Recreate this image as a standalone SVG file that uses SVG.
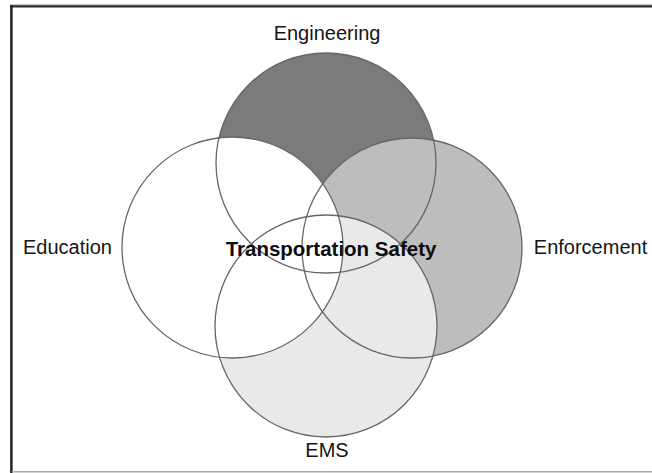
<svg xmlns="http://www.w3.org/2000/svg" width="652" height="473" viewBox="0 0 652 473">
  <style>
    .lbl { font-family: "Liberation Sans", Arial, sans-serif; font-size: 20px; fill: #151515; text-anchor: middle; }
    .title { font-family: "Liberation Sans", Arial, sans-serif; font-size: 20.5px; font-weight: bold; fill: #0d0d0d; text-anchor: middle; }
    .ring { fill: none; stroke: #666666; stroke-width: 1.3; }
  </style>
  <rect x="0" y="0" width="652" height="473" fill="#ffffff"/>
  <!-- frame -->
  <line x1="10" y1="4.8" x2="652" y2="4.8" stroke="#b0b0b0" stroke-width="1"/>
  <line x1="10" y1="6.3" x2="652" y2="6.3" stroke="#2a2a2a" stroke-width="2.2"/>
  <line x1="11.4" y1="5" x2="11.4" y2="473" stroke="#2a2a2a" stroke-width="2.6"/>
  <line x1="12" y1="471.7" x2="652" y2="471.7" stroke="#a8a8a8" stroke-width="1.4"/>

  <!-- circle fills, painted in order so overlaps take the later colour -->
  <g id="fills">
    <circle id="engineering-fill" cx="326" cy="163" r="110" fill="#7b7b7b"/>
    <circle id="enforcement-fill" cx="412" cy="248" r="110" fill="#bdbdbd"/>
    <circle id="ems-fill" cx="326" cy="326" r="111" fill="#e9e9e9"/>
    <circle id="education-fill" cx="232.5" cy="247.5" r="110.5" fill="#ffffff"/>
  </g>

  <g id="engineering">
    <circle class="ring" cx="326" cy="163" r="110"/>
    <text class="lbl" x="327" y="40">Engineering</text>
  </g>
  <g id="enforcement">
    <circle class="ring" cx="412" cy="248" r="110"/>
    <text class="lbl" x="590.5" y="254">Enforcement</text>
  </g>
  <g id="ems">
    <circle class="ring" cx="326" cy="326" r="111"/>
    <text class="lbl" x="327" y="457">EMS</text>
  </g>
  <g id="education">
    <circle class="ring" cx="232.5" cy="247.5" r="110.5"/>
    <text class="lbl" x="67.5" y="254">Education</text>
  </g>
  <g id="center">
    <text class="title" x="331" y="256">Transportation Safety</text>
  </g>
</svg>
